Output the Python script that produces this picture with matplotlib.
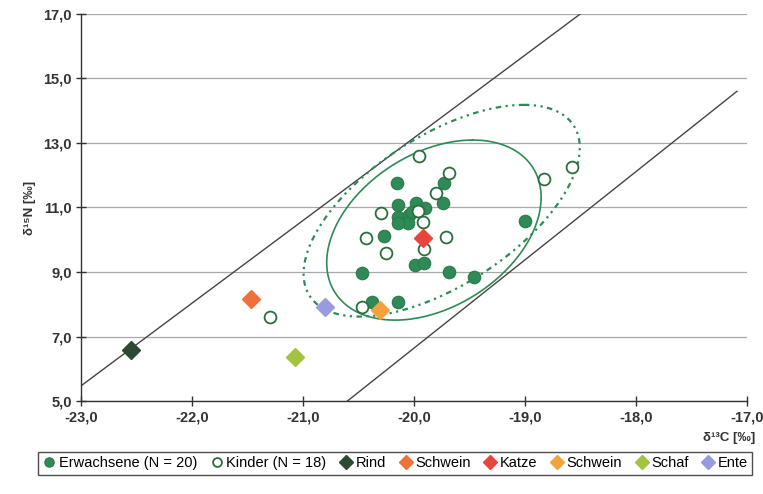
import numpy as np
import matplotlib.pyplot as plt

plt.rcParams['font.family'] = ['Liberation Sans', 'DejaVu Sans']

# Erwachsene (adults), filled symbols: d13C, d15N
adult_x = [-20.14, -19.98, -19.90, -20.14, -20.04, -20.05, -20.14, -19.74, -20.15, -19.73,
           -19.00, -20.27, -19.99, -19.91, -20.47, -19.68, -19.46, -20.38, -20.14, -20.02]
adult_y = [11.07, 11.13, 10.98, 10.71, 10.77, 10.51, 10.51, 11.15, 11.75, 11.75,
           10.58, 10.12, 9.22, 9.27, 8.96, 9.01, 8.85, 8.08, 8.06, 10.85]

# Kinder (children), open symbols
child_x = [-19.95, -19.68, -19.80, -18.83, -18.58, -20.30, -19.96, -19.92, -20.43, -19.71,
           -20.25, -19.91, -20.47, -21.30]
child_y = [12.58, 12.06, 11.44, 11.87, 12.25, 10.82, 10.88, 10.56, 10.04, 10.09,
           9.58, 9.70, 7.92, 7.60]

# animal references
animal_names = ['Rind', 'Schwein', 'Katze', 'Schwein', 'Schaf', 'Ente']
animal_x = [-22.55, -21.47, -19.92, -20.31, -21.07, -20.80]
animal_y = [6.58, 8.16, 10.04, 7.82, 6.36, 7.92]
animal_colors = ['#2c4a32', '#f0703c', '#e8463c', '#f4a23e', '#a2c43e', '#9a9ade']

# diagonal boundary lines (start, end)
upper_line_x = [-23.0, -18.5]
upper_line_y = [5.47, 17.0]
lower_line_x = [-20.6, -17.09]
lower_line_y = [5.0, 14.6]

# ellipses: centre, conjugate half-axes (data units)
solid_center = (-19.82, 10.30)
solid_a = (0.35, 2.79)
solid_b = (0.90, 0.0)
dashed_center = (-19.75, 10.90)
dashed_a = (0.74, 3.28)
dashed_b = (1.0, 0.0)

green = '#2f8a55'

fig = plt.figure(figsize=(7.63, 4.94), dpi=100)
ax = fig.add_axes([0.106, 0.188, 0.873, 0.784])

ax.set_xlim(-23, -17)
ax.set_ylim(5, 17)
ax.set_yticks(np.arange(5, 17.1, 2))
ax.set_xticks(np.arange(-23, -16.9, 1))
ax.yaxis.grid(True, color='#a8a8a8', linewidth=0.9)
ax.set_axisbelow(True)
ax.spines['top'].set_visible(False)
ax.spines['right'].set_visible(False)
for s in ['left', 'bottom']:
    ax.spines[s].set_color('#333333')
    ax.spines[s].set_linewidth(1.0)

ax.set_xticklabels([f'{v:.1f}'.replace('.', ',') for v in ax.get_xticks()],
                   fontweight='bold', fontsize=10.5, color='#333333')
ax.set_yticklabels([f'{v:.1f}'.replace('.', ',') for v in ax.get_yticks()],
                   fontweight='bold', fontsize=10.5, color='#333333')
ax.tick_params(axis='both', direction='inout', length=7, width=1, color='#333333', pad=3)

ax.plot(upper_line_x, upper_line_y, color='#444444', lw=1.0)
ax.plot(lower_line_x, lower_line_y, color='#444444', lw=1.0)

t = np.linspace(0, 2 * np.pi, 300)
ex = solid_center[0] + solid_a[0] * np.cos(t) + solid_b[0] * np.sin(t)
ey = solid_center[1] + solid_a[1] * np.cos(t) + solid_b[1] * np.sin(t)
ax.plot(ex, ey, color=green, lw=1.2)
dx = dashed_center[0] + dashed_a[0] * np.cos(t) + dashed_b[0] * np.sin(t)
dy = dashed_center[1] + dashed_a[1] * np.cos(t) + dashed_b[1] * np.sin(t)
ax.plot(dx, dy, color=green, lw=1.6, linestyle=(0, (2.5, 2, 1, 2, 1, 2)))

h1, = ax.plot(adult_x, adult_y, 'o', ms=9, color=green, mec='#2a7a4a', mew=0.8,
              label='Erwachsene (N = 20)', zorder=3)
h2, = ax.plot(child_x, child_y, 'o', ms=8.5, mfc='white', mec='#2a6e3e', mew=1.3,
              label='Kinder (N = 18)', zorder=4)
handles = [h1, h2]
for name, x, y, c in zip(animal_names, animal_x, animal_y, animal_colors):
    h, = ax.plot([x], [y], 'D', ms=9, color=c, mec=c, label=name, zorder=5)
    handles.append(h)

ax.set_ylabel('δ¹⁵N [‰]', fontsize=9.5, fontweight='bold', color='#333333', labelpad=5)
ax.text(1.012, -0.08, 'δ¹³C [‰]', transform=ax.transAxes, ha='right', va='top',
        fontsize=9.5, fontweight='bold', color='#333333')

leg = fig.legend(handles=handles, loc='lower center', bbox_to_anchor=(0.518, 0.024),
                 ncol=8, fontsize=10.5, frameon=True, fancybox=False, edgecolor='#222222',
                 handlelength=0.9, handletextpad=0.2, columnspacing=0.9,
                 borderpad=0.3, markerscale=0.75)
leg.get_frame().set_linewidth(1.0)

fig.savefig('out.png', dpi=100)
